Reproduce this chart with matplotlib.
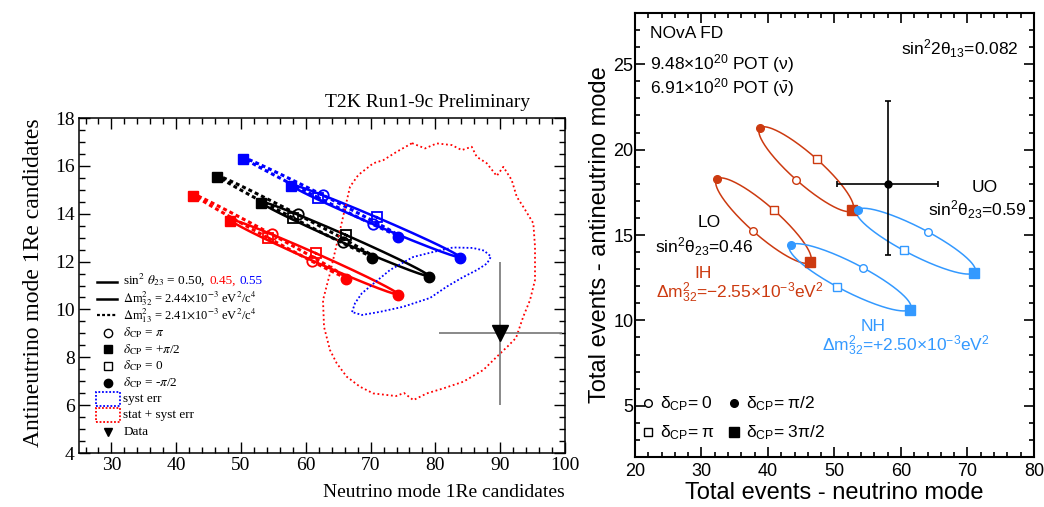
import numpy as np
import matplotlib
matplotlib.use("Agg")
import matplotlib.pyplot as plt
from matplotlib.ticker import MultipleLocator
from matplotlib.patches import Rectangle

plt.rcParams['mathtext.fontset'] = 'custom'
plt.rcParams['mathtext.rm'] = 'Liberation Sans'
plt.rcParams['mathtext.it'] = 'Liberation Sans'
plt.rcParams['mathtext.bf'] = 'Liberation Sans:bold'

# ---------------- T2K (left panel) ----------------
t2k_colors = ['black', 'red', 'blue']  # sin^2 theta23 = 0.50, 0.45, 0.55

# normal hierarchy, dm2_32 = 2.44e-3 (solid)
nh_pi2_x = [53.04, 48.30, 57.67]
nh_pi2_y = [14.46, 13.71, 15.18]
nh_mpi2_x = [78.97, 74.18, 83.75]
nh_mpi2_y = [11.37, 10.60, 12.16]
nh_0_x = [66.20, 61.53, 70.94]
nh_0_y = [13.11, 12.35, 13.85]
nh_pi_x = [65.69, 61.00, 70.42]
nh_pi_y = [12.80, 12.04, 13.56]

# inverted hierarchy, dm2_13 = 2.41e-3 (dotted)
ih_pi2_x = [46.34, 42.55, 50.35]
ih_pi2_y = [15.52, 14.74, 16.29]
ih_mpi2_x = [70.22, 66.16, 74.23]
ih_mpi2_y = [12.16, 11.26, 13.04]
ih_0_x = [57.98, 54.12, 61.93]
ih_0_y = [13.83, 13.00, 14.67]
ih_pi_x = [58.75, 54.74, 62.61]
ih_pi_y = [13.97, 13.14, 14.78]

# syst err contour
syst_x = [67.13, 67.59, 68.63, 70.17, 73.0, 76.54, 79.63, 82.72, 85.80, 87.50,
          88.58, 87.96, 86.42, 84.26, 81.79, 79.17, 75.0, 71.45, 68.67, 67.13]
syst_y = [9.89, 10.26, 10.67, 11.02, 11.65, 12.19, 12.40, 12.59, 12.57, 12.46,
          12.21, 11.92, 11.65, 11.35, 10.96, 10.48, 10.11, 9.90, 9.77, 9.89]

# stat + syst err contour
stat_x = [76.39, 78.40, 80.20, 82.52, 84.06, 85.60, 86.37, 87.92, 89.46, 90.48,
          91.77, 92.55, 93.56, 95.11, 95.37, 95.37, 94.60, 93.56, 92.44, 91.20,
          89.46, 87.39, 84.31, 81.22, 78.66, 76.59, 75.15, 73.92, 70.42, 68.36,
          66.31, 64.77, 63.73, 62.81, 62.65, 63.73, 65.28, 66.82, 68.10, 70.42,
          71.96, 74.03, 76.39]
stat_y = [16.95, 16.73, 16.94, 16.87, 16.66, 16.80, 16.38, 16.11, 15.58, 15.96,
          15.41, 14.71, 14.29, 13.60, 12.62, 11.23, 10.39, 9.70, 8.81, 8.47,
          8.02, 7.47, 6.98, 6.70, 6.49, 6.21, 6.51, 6.38, 6.49, 6.77,
          7.19, 7.75, 8.30, 9.27, 10.39, 11.51, 13.32, 15.13, 15.62, 16.11,
          16.24, 16.59, 16.95]

t2k_data_x = 90.0
t2k_data_y = 9.0
t2k_data_xerr = 9.49
t2k_data_yerr = 3.0

# ---------------- NOvA (right panel) ----------------
nova_names = ['IH UO', 'IH LO', 'NH LO', 'NH UO']
nova_colors = ['#cc3a10', '#cc3a10', '#3399ff', '#3399ff']
nova_d0_x = [44.2, 37.7, 54.3, 64.1]      # delta_CP = 0
nova_d0_y = [18.25, 15.25, 13.08, 15.18]
nova_d90_x = [38.8, 32.3, 43.4, 53.5]     # delta_CP = pi/2
nova_d90_y = [21.28, 18.29, 14.40, 16.48]
nova_d180_x = [47.3, 40.95, 50.4, 60.4]   # delta_CP = pi
nova_d180_y = [19.46, 16.44, 11.97, 14.10]
nova_d270_x = [52.7, 46.3, 61.3, 71.0]    # delta_CP = 3pi/2
nova_d270_y = [16.46, 13.43, 10.62, 12.78]

nova_data_x = 58.0
nova_data_y = 18.0
nova_data_xerr = 7.6
nova_data_yerr_lo = 4.15
nova_data_yerr_hi = 4.85


def ellipse(p0, p90, p180, p270, n=300):
    # curve through the four delta_CP points: c + a cos(d) + b sin(d)
    p0, p90, p180, p270 = map(np.asarray, (p0, p90, p180, p270))
    t = np.linspace(0, 2 * np.pi, n)
    c = (p0 + p180) / 2
    a = (p0 - p180) / 2
    b = (p90 - p270) / 2
    return c[0] + a[0] * np.cos(t) + b[0] * np.sin(t), c[1] + a[1] * np.cos(t) + b[1] * np.sin(t)


fig = plt.figure(figsize=(10.44, 5.07), dpi=100)

# ======== left ========
ax = fig.add_axes([0.0757, 0.1065, 0.4655, 0.6607])
ax.set_xlim(25, 100)
ax.set_ylim(4, 18)
ax.xaxis.set_major_locator(MultipleLocator(10))
ax.xaxis.set_minor_locator(MultipleLocator(2))
ax.yaxis.set_major_locator(MultipleLocator(2))
ax.yaxis.set_minor_locator(MultipleLocator(0.5))
ax.tick_params(which='both', direction='in', top=True, right=True, width=1.0,
               labelsize=14, pad=3)
ax.tick_params(which='major', length=8)
ax.tick_params(which='minor', length=4)
for lab in ax.get_xticklabels() + ax.get_yticklabels():
    lab.set_family('Liberation Serif')
for s in ax.spines.values():
    s.set_linewidth(1.1)

dot_ls = (0, (1.3, 1.0))
for i, col in enumerate(t2k_colors):
    ex, ey = ellipse((ih_0_x[i], ih_0_y[i]), (ih_pi2_x[i], ih_pi2_y[i]),
                     (ih_pi_x[i], ih_pi_y[i]), (ih_mpi2_x[i], ih_mpi2_y[i]))
    ax.plot(ex, ey, color=col, lw=2.2, ls=dot_ls, zorder=2)
    ex, ey = ellipse((nh_0_x[i], nh_0_y[i]), (nh_pi2_x[i], nh_pi2_y[i]),
                     (nh_pi_x[i], nh_pi_y[i]), (nh_mpi2_x[i], nh_mpi2_y[i]))
    ax.plot(ex, ey, color=col, lw=1.8, zorder=2)

ax.plot(stat_x, stat_y, color='red', lw=1.3, ls=(0, (1, 1.5)), zorder=3)
ax.plot(syst_x, syst_y, color='blue', lw=1.3, ls=(0, (1, 1.2)), zorder=3)

for i, col in enumerate(t2k_colors):
    for px, py in ((ih_pi2_x, ih_pi2_y), (nh_pi2_x, nh_pi2_y)):
        ax.plot(px[i], py[i], 's', color=col, ms=7.5, zorder=4)
    for px, py in ((ih_mpi2_x, ih_mpi2_y), (nh_mpi2_x, nh_mpi2_y)):
        ax.plot(px[i], py[i], 'o', color=col, ms=7.5, zorder=4)
    for px, py in ((ih_0_x, ih_0_y), (nh_0_x, nh_0_y)):
        ax.plot(px[i], py[i], 's', mfc='none', mec=col, mew=1.3, ms=7.5, zorder=4)
    for px, py in ((ih_pi_x, ih_pi_y), (nh_pi_x, nh_pi_y)):
        ax.plot(px[i], py[i], 'o', mfc='none', mec=col, mew=1.3, ms=7.5, zorder=4)

ax.errorbar(t2k_data_x, t2k_data_y, xerr=t2k_data_xerr, yerr=t2k_data_yerr,
            fmt='none', ecolor='#808080', elinewidth=1.3, capsize=0, zorder=5)
ax.plot(t2k_data_x, t2k_data_y, 'v', color='black', ms=12, zorder=6)

ax.set_xlabel('Neutrino mode 1Re candidates', family='Liberation Serif', fontsize=14,
              ha='right', va='center')
ax.xaxis.set_label_coords(1.0, -0.119)
ax.set_ylabel('Antineutrino mode 1Re candidates', family='Liberation Serif', fontsize=17,
              ha='right', va='center', rotation_mode='anchor')
ax.yaxis.set_label_coords(-0.0947, 1.0)
ax.text(0.928, 1.045, 'T2K Run1-9c Preliminary', transform=ax.transAxes,
        family='Liberation Serif', fontsize=14, ha='right', va='center')


def ltext(x, y, s, color='black', va='center', size=9.5):
    return ax.text(x, y, s, transform=ax.transAxes, family='Liberation Serif',
                   math_fontfamily='stix', fontsize=size, color=color, va=va, ha='left')


# legend (drawn by hand, ROOT style)
lx0, lx1, mx, tx = 0.0364, 0.0788, 0.0589, 0.0912
rows = [0.511, 0.461, 0.411, 0.359, 0.310, 0.261, 0.210, 0.161, 0.113, 0.0636]
tr = ax.transAxes
ax.plot([lx0, lx1], [rows[0]] * 2, color='black', lw=1.8, transform=tr, clip_on=False)
ax.plot([lx0, lx1], [rows[1]] * 2, color='black', lw=1.8, transform=tr, clip_on=False)
ax.plot([lx0, lx1], [rows[2]] * 2, color='black', lw=1.6, ls=(0, (1.3, 1.0)),
        transform=tr, clip_on=False)
ax.plot(mx, rows[3], 'o', mfc='none', mec='black', mew=1.0, ms=6, transform=tr)
ax.plot(mx, rows[4], 's', color='black', ms=6, transform=tr)
ax.plot(mx, rows[5], 's', mfc='none', mec='black', mew=1.0, ms=6, transform=tr)
ax.plot(mx, rows[6], 'o', color='black', ms=6, transform=tr)
ax.add_patch(Rectangle((0.0350, rows[7] - 0.02), 0.049, 0.04, transform=tr, fill=False,
                       ec='blue', lw=1.3, ls=(0, (1, 1))))
ax.add_patch(Rectangle((0.0350, rows[8] - 0.02), 0.049, 0.04, transform=tr, fill=False,
                       ec='red', lw=1.3, ls=(0, (1, 1))))
ax.plot(mx, rows[9], 'v', color='black', ms=6, transform=tr)

base0 = rows[0] - 0.007
t1 = ltext(tx, base0, r'sin$^2$ $\theta_{23}$ = 0.50,', va='baseline')
fig.canvas.draw()
bb = t1.get_window_extent()
xa = tr.inverted().transform((bb.x1, bb.y0))[0]
t2 = ltext(xa + 0.008, base0, '0.45,', color='red', va='baseline')
fig.canvas.draw()
bb = t2.get_window_extent()
xa = tr.inverted().transform((bb.x1, bb.y0))[0]
ltext(xa + 0.008, base0, '0.55', color='blue', va='baseline')

ltext(tx, rows[1], r'$\Delta$m$^2_{32}$ = 2.44$\times$10$^{-3}$ eV$^2$/c$^4$', size=9)
ltext(tx, rows[2], r'$\Delta$m$^2_{13}$ = 2.41$\times$10$^{-3}$ eV$^2$/c$^4$', size=9)
ltext(tx, rows[3], r'$\delta_{\rm CP}$ = $\pi$')
ltext(tx, rows[4], r'$\delta_{\rm CP}$ = +$\pi$/2')
ltext(tx, rows[5], r'$\delta_{\rm CP}$ = 0')
ltext(tx, rows[6], r'$\delta_{\rm CP}$ = -$\pi$/2')
ltext(tx, rows[7], 'syst err')
ltext(tx, rows[8], 'stat + syst err')
ltext(tx, rows[9], 'Data')

# ======== right ========
bx = fig.add_axes([0.6082, 0.0986, 0.3822, 0.8757])
bx.set_xlim(20, 80)
bx.set_ylim(2, 28)
bx.xaxis.set_major_locator(MultipleLocator(10))
bx.xaxis.set_minor_locator(MultipleLocator(2))
bx.yaxis.set_major_locator(MultipleLocator(5))
bx.yaxis.set_minor_locator(MultipleLocator(1))
bx.tick_params(which='both', direction='in', top=True, right=True, width=1.2,
               labelsize=13)
bx.tick_params(axis='x', pad=4)
bx.tick_params(axis='y', pad=1)
bx.tick_params(which='major', length=7)
bx.tick_params(which='minor', length=3.5)
for lab in bx.get_xticklabels() + bx.get_yticklabels():
    lab.set_family('Liberation Sans')
for s in bx.spines.values():
    s.set_linewidth(1.5)

for i, col in enumerate(nova_colors):
    ex, ey = ellipse((nova_d0_x[i], nova_d0_y[i]), (nova_d90_x[i], nova_d90_y[i]),
                     (nova_d180_x[i], nova_d180_y[i]), (nova_d270_x[i], nova_d270_y[i]))
    bx.plot(ex, ey, color=col, lw=1.1, zorder=2)
for i, col in enumerate(nova_colors):
    bx.plot(nova_d0_x[i], nova_d0_y[i], 'o', mfc='white', mec=col, mew=1.0, ms=5.5, zorder=3)
    bx.plot(nova_d90_x[i], nova_d90_y[i], 'o', color=col, ms=5.5, zorder=3)
    bx.plot(nova_d180_x[i], nova_d180_y[i], 's', mfc='white', mec=col, mew=1.0, ms=6, zorder=3)
    bx.plot(nova_d270_x[i], nova_d270_y[i], 's', color=col, ms=7, zorder=3)

bx.errorbar(nova_data_x, nova_data_y, xerr=nova_data_xerr,
            yerr=[[nova_data_yerr_lo], [nova_data_yerr_hi]], fmt='o', color='black',
            ms=5, elinewidth=1.2, capsize=2, capthick=1.2, zorder=4)

bx.set_xlabel('Total events - neutrino mode', family='Liberation Sans', fontsize=17,
              va='center')
bx.xaxis.set_label_coords(0.5, -0.081)
bx.set_ylabel('Total events - antineutrino mode', family='Liberation Sans', fontsize=17,
              va='center', ha='center', rotation_mode='anchor')
bx.yaxis.set_label_coords(-0.0877, 0.5)

orange = nova_colors[0]
blue = nova_colors[2]


def rtext(x, y, s, color='black', ha='left'):
    return bx.text(x, y, s, transform=bx.transAxes, family='Liberation Sans',
                   math_fontfamily='custom', fontsize=12.5, color=color, ha=ha, va='center')


rtext(0.0376, 0.955, 'NOvA FD')
rtext(0.0376, 0.887, r'9.48$\times$10$^{20}$ POT ($\nu$)')
rtext(0.0376, 0.833, r'6.91$\times$10$^{20}$ POT ($\bar{\nu}$)')
rtext(0.962, 0.919, r'sin$^2$2$\theta_{13}$=0.082', ha='right')
rtext(0.877, 0.606, 'UO', ha='center')
rtext(0.980, 0.556, r'sin$^2\theta_{23}$=0.59', ha='right')
rtext(0.186, 0.528, 'LO', ha='center')
rtext(0.050, 0.474, r'sin$^2\theta_{23}$=0.46')
rtext(0.171, 0.414, 'IH', color=orange, ha='center')
rtext(0.0526, 0.369, r'$\Delta$m$^2_{32}$=$-$2.55$\times$10$^{-3}$eV$^2$', color=orange)
rtext(0.596, 0.295, 'NH', color=blue, ha='center')
rtext(0.468, 0.250, r'$\Delta$m$^2_{32}$=+2.50$\times$10$^{-3}$eV$^2$', color=blue)

# legend
rtr = bx.transAxes
bx.plot(0.0333, 0.121, 'o', mfc='white', mec='black', mew=1.0, ms=5.5, transform=rtr)
bx.plot(0.2481, 0.121, 'o', color='black', ms=5.5, transform=rtr)
bx.plot(0.0333, 0.0556, 's', mfc='white', mec='black', mew=1.0, ms=6, transform=rtr)
bx.plot(0.2481, 0.0556, 's', color='black', ms=7, transform=rtr)
rtext(0.0627, 0.121, r'$\delta_{\rm CP}$= 0')
rtext(0.2782, 0.121, r'$\delta_{\rm CP}$= $\pi$/2')
rtext(0.0627, 0.0556, r'$\delta_{\rm CP}$= $\pi$')
rtext(0.2782, 0.0556, r'$\delta_{\rm CP}$= 3$\pi$/2')

fig.savefig('out.png', dpi=100)
